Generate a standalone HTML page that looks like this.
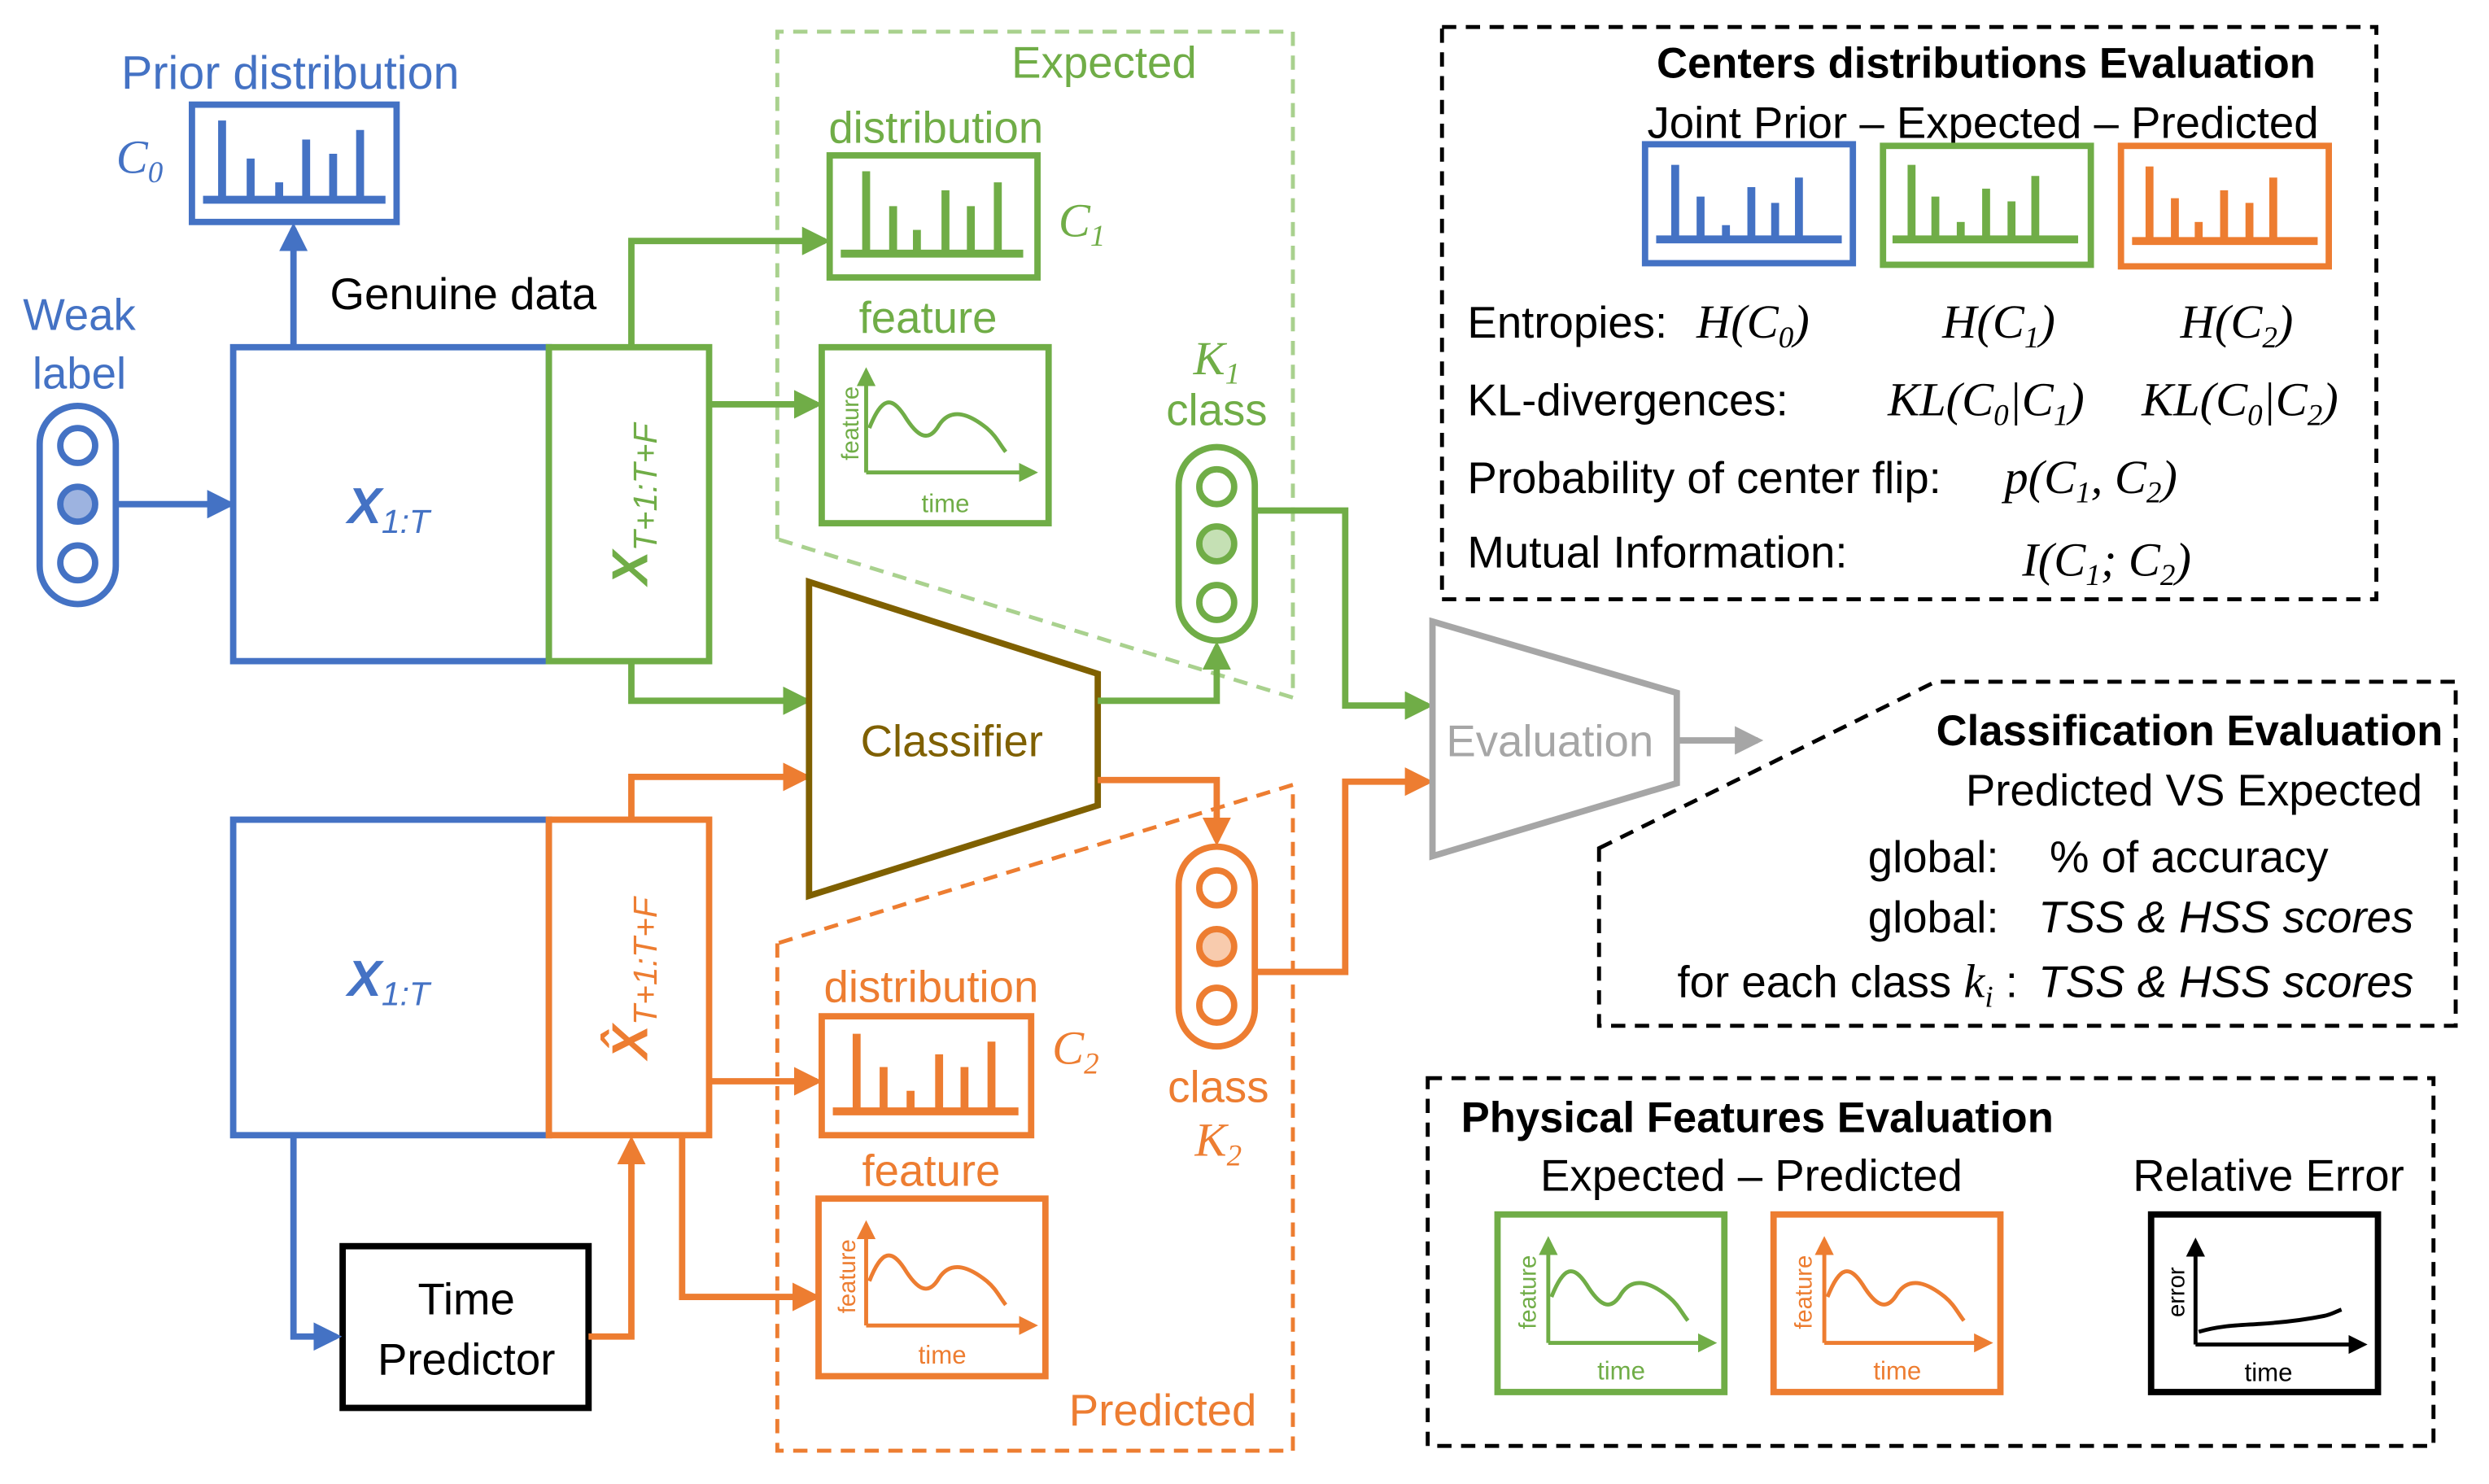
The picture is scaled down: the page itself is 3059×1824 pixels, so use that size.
<!DOCTYPE html>
<html><head><meta charset="utf-8">
<style>
html,body{margin:0;padding:0;background:#fff;}
svg{display:block;}
text{font-family:"Liberation Sans",sans-serif;}
.m{font-family:"Liberation Serif",serif;font-style:italic;}
</style></head>
<body>
<svg width="3059" height="1824" viewBox="0 0 1569 936" preserveAspectRatio="none" xmlns="http://www.w3.org/2000/svg">
<defs>
<marker id="ag" viewBox="0 0 10 10" refX="8" refY="5" markerWidth="18" markerHeight="18" orient="auto" markerUnits="userSpaceOnUse"><path d="M0,0 L10,5 L0,10 z" fill="#70AD47"/></marker>
<marker id="ao" viewBox="0 0 10 10" refX="8" refY="5" markerWidth="18" markerHeight="18" orient="auto" markerUnits="userSpaceOnUse"><path d="M0,0 L10,5 L0,10 z" fill="#ED7D31"/></marker>
<marker id="ab2" viewBox="0 0 10 10" refX="8" refY="5" markerWidth="18" markerHeight="18" orient="auto" markerUnits="userSpaceOnUse"><path d="M0,0 L10,5 L0,10 z" fill="#4472C4"/></marker>
<marker id="ay" viewBox="0 0 10 10" refX="8" refY="5" markerWidth="18" markerHeight="18" orient="auto" markerUnits="userSpaceOnUse"><path d="M0,0 L10,5 L0,10 z" fill="#A6A6A6"/></marker>
<marker id="sg" viewBox="0 0 10 10" refX="8" refY="5" markerWidth="12" markerHeight="12" orient="auto" markerUnits="userSpaceOnUse"><path d="M0,0 L10,5 L0,10 z" fill="#70AD47"/></marker>
<marker id="so" viewBox="0 0 10 10" refX="8" refY="5" markerWidth="12" markerHeight="12" orient="auto" markerUnits="userSpaceOnUse"><path d="M0,0 L10,5 L0,10 z" fill="#ED7D31"/></marker>
<marker id="sk" viewBox="0 0 10 10" refX="8" refY="5" markerWidth="12" markerHeight="12" orient="auto" markerUnits="userSpaceOnUse"><path d="M0,0 L10,5 L0,10 z" fill="#000"/></marker>
</defs>

<path d="M490,340 L490,20 L815,20 L815,440 L490,340" fill="none" stroke="#A9D18E" stroke-width="2.5" stroke-dasharray="9,6"/>
<path d="M490,595 L490,915 L815,915 L815,495 L490,595" fill="none" stroke="#ED7D31" stroke-width="2.5" stroke-dasharray="9,6"/>

<text x="183" y="56" font-size="29.5" fill="#4472C4" text-anchor="middle">Prior distribution</text>
<text x="88" y="109" font-size="30" class="m" fill="#4472C4" text-anchor="middle">C<tspan font-size="19" dy="6">0</tspan></text>
<rect x="121" y="66" width="129" height="74" fill="none" stroke="#4472C4" stroke-width="4"/>
<g stroke="#4472C4" stroke-width="5"><line x1="128" y1="126" x2="243" y2="126"/>
<line x1="140" y1="124" x2="140" y2="76"/><line x1="158" y1="124" x2="158" y2="100"/><line x1="176" y1="124" x2="176" y2="115"/><line x1="193" y1="124" x2="193" y2="88"/><line x1="210" y1="124" x2="210" y2="97"/><line x1="227" y1="124" x2="227" y2="82"/></g>
<line x1="185" y1="218" x2="185" y2="144" stroke="#4472C4" stroke-width="4" marker-end="url(#ab2)"/>
<text x="208" y="195" font-size="28" fill="#000">Genuine data</text>
<text x="50" y="208" font-size="28" fill="#4472C4" text-anchor="middle">Weak</text>
<text x="50" y="245" font-size="28" fill="#4472C4" text-anchor="middle">label</text>
<rect x="25" y="256" width="48" height="125" rx="24" fill="#fff" stroke="#4472C4" stroke-width="4"/>
<circle cx="49" cy="281" r="11" fill="#fff" stroke="#4472C4" stroke-width="4"/>
<circle cx="49" cy="318" r="11" fill="#9DB3E0" stroke="#4472C4" stroke-width="4"/>
<circle cx="49" cy="355" r="11" fill="#fff" stroke="#4472C4" stroke-width="4"/>
<line x1="73" y1="318" x2="145" y2="318" stroke="#4472C4" stroke-width="4" marker-end="url(#ab2)"/>

<rect x="147" y="219" width="199" height="198" fill="none" stroke="#4472C4" stroke-width="4"/>
<text x="245" y="330" font-size="32" fill="#4472C4" text-anchor="middle" font-family="Liberation Serif" font-style="italic" font-weight="bold">X<tspan font-size="21" dy="6" font-weight="normal">1:T</tspan></text>
<rect x="346" y="219" width="101" height="198" fill="none" stroke="#70AD47" stroke-width="4"/>
<text transform="translate(408,318) rotate(-90)" font-size="32" fill="#70AD47" text-anchor="middle" font-family="Liberation Serif" font-style="italic" font-weight="bold">X<tspan font-size="21" dy="6" font-weight="normal">T+1:T+F</tspan></text>

<rect x="147" y="517" width="199" height="199" fill="none" stroke="#4472C4" stroke-width="4"/>
<text x="245" y="628" font-size="32" fill="#4472C4" text-anchor="middle" font-family="Liberation Serif" font-style="italic" font-weight="bold">X<tspan font-size="21" dy="6" font-weight="normal">1:T</tspan></text>
<rect x="346" y="517" width="101" height="199" fill="none" stroke="#ED7D31" stroke-width="4"/>
<text transform="translate(408,617) rotate(-90)" font-size="32" fill="#ED7D31" text-anchor="middle" font-family="Liberation Serif" font-style="italic" font-weight="bold">X̂<tspan font-size="21" dy="6" font-weight="normal">T+1:T+F</tspan></text>

<rect x="216" y="786" width="155" height="102" fill="none" stroke="#000" stroke-width="4"/>
<text x="294" y="829" font-size="28" text-anchor="middle">Time</text>
<text x="294" y="867" font-size="28" text-anchor="middle">Predictor</text>
<polyline points="185,716 185,843 212,843" fill="none" stroke="#4472C4" stroke-width="4" marker-end="url(#ab2)"/>
<polyline points="371,843 398,843 398,720" fill="none" stroke="#ED7D31" stroke-width="4" marker-end="url(#ao)"/>

<polyline points="398,218 398,152 520,152" fill="none" stroke="#70AD47" stroke-width="4" marker-end="url(#ag)"/>
<line x1="447" y1="255" x2="515" y2="255" stroke="#70AD47" stroke-width="4" marker-end="url(#ag)"/>
<polyline points="398,417 398,442 508,442" fill="none" stroke="#70AD47" stroke-width="4" marker-end="url(#ag)"/>
<polyline points="398,517 398,490 508,490" fill="none" stroke="#ED7D31" stroke-width="4" marker-end="url(#ao)"/>
<line x1="447" y1="682" x2="515" y2="682" stroke="#ED7D31" stroke-width="4" marker-end="url(#ao)"/>
<polyline points="430,716 430,818 514,818" fill="none" stroke="#ED7D31" stroke-width="4" marker-end="url(#ao)"/>

<text x="696" y="49" font-size="28" fill="#70AD47" text-anchor="middle">Expected</text>
<text x="590" y="90" font-size="28" fill="#70AD47" text-anchor="middle">distribution</text>
<rect x="523" y="98" width="131" height="77" fill="none" stroke="#70AD47" stroke-width="4"/>
<g stroke="#70AD47" stroke-width="5"><line x1="530" y1="160" x2="645" y2="160"/>
<line x1="546" y1="158" x2="546" y2="108"/><line x1="563" y1="158" x2="563" y2="130"/><line x1="578" y1="158" x2="578" y2="145"/><line x1="596" y1="158" x2="596" y2="120"/><line x1="612" y1="158" x2="612" y2="130"/><line x1="629" y1="158" x2="629" y2="115"/></g>
<text x="682" y="149" font-size="30" class="m" fill="#70AD47" text-anchor="middle">C<tspan font-size="19" dy="6">1</tspan></text>
<text x="585" y="210" font-size="28" fill="#70AD47" text-anchor="middle">feature</text>
<rect x="518" y="219" width="143" height="111" fill="none" stroke="#70AD47" stroke-width="4"/>
<g stroke="#70AD47" stroke-width="2.5" fill="none"><line x1="546" y1="298" x2="546" y2="234" marker-end="url(#sg)"/><line x1="546" y1="298" x2="652" y2="298" marker-end="url(#sg)"/>
<path d="M548,270 C556,250 562,250 570,262 C578,275 585,280 592,268 C600,256 612,262 622,270 C628,275 630,280 634,285"/></g>
<text transform="translate(541,267) rotate(-90)" font-size="15" fill="#70AD47" text-anchor="middle">feature</text>
<text x="596" y="323" font-size="16" fill="#70AD47" text-anchor="middle">time</text>

<text x="767" y="236" font-size="30" class="m" fill="#70AD47" text-anchor="middle">K<tspan font-size="19" dy="6">1</tspan></text>
<text x="767" y="268" font-size="28" fill="#70AD47" text-anchor="middle">class</text>
<rect x="743" y="282" width="48" height="122" rx="24" fill="#fff" stroke="#70AD47" stroke-width="4"/>
<circle cx="767" cy="307" r="11" fill="#fff" stroke="#70AD47" stroke-width="4"/>
<circle cx="767" cy="343" r="11" fill="#C5E0B4" stroke="#70AD47" stroke-width="4"/>
<circle cx="767" cy="380" r="11" fill="#fff" stroke="#70AD47" stroke-width="4"/>

<polygon points="510,367 692,425 692,508 510,565" fill="#fff" stroke="#7F6000" stroke-width="4"/>
<text x="600" y="477" font-size="28" fill="#7F6000" text-anchor="middle">Classifier</text>
<polyline points="692,442 767,442 767,408" fill="none" stroke="#70AD47" stroke-width="4" marker-end="url(#ag)"/>
<polyline points="791,322 848,322 848,445 900,445" fill="none" stroke="#70AD47" stroke-width="4" marker-end="url(#ag)"/>
<polyline points="692,492 767,492 767,530" fill="none" stroke="#ED7D31" stroke-width="4" marker-end="url(#ao)"/>
<polyline points="791,613 848,613 848,493 900,493" fill="none" stroke="#ED7D31" stroke-width="4" marker-end="url(#ao)"/>

<rect x="743" y="534" width="48" height="126" rx="24" fill="#fff" stroke="#ED7D31" stroke-width="4"/>
<circle cx="767" cy="560" r="11" fill="#fff" stroke="#ED7D31" stroke-width="4"/>
<circle cx="767" cy="597" r="11" fill="#F8CBAD" stroke="#ED7D31" stroke-width="4"/>
<circle cx="767" cy="634" r="11" fill="#fff" stroke="#ED7D31" stroke-width="4"/>
<text x="768" y="695" font-size="28" fill="#ED7D31" text-anchor="middle">class</text>
<text x="768" y="729" font-size="30" class="m" fill="#ED7D31" text-anchor="middle">K<tspan font-size="19" dy="6">2</tspan></text>

<text x="587" y="632" font-size="28" fill="#ED7D31" text-anchor="middle">distribution</text>
<rect x="518" y="641" width="132" height="75" fill="none" stroke="#ED7D31" stroke-width="4"/>
<g stroke="#ED7D31" stroke-width="5"><line x1="525" y1="701" x2="642" y2="701"/>
<line x1="540" y1="699" x2="540" y2="652"/><line x1="557" y1="699" x2="557" y2="673"/><line x1="574" y1="699" x2="574" y2="688"/><line x1="592" y1="699" x2="592" y2="665"/><line x1="608" y1="699" x2="608" y2="673"/><line x1="625" y1="699" x2="625" y2="657"/></g>
<text x="678" y="671" font-size="30" class="m" fill="#ED7D31" text-anchor="middle">C<tspan font-size="19" dy="6">2</tspan></text>
<text x="587" y="748" font-size="28" fill="#ED7D31" text-anchor="middle">feature</text>
<rect x="516" y="756" width="143" height="112" fill="none" stroke="#ED7D31" stroke-width="4"/>
<g stroke="#ED7D31" stroke-width="2.5" fill="none"><line x1="546" y1="836" x2="546" y2="772" marker-end="url(#so)"/><line x1="546" y1="836" x2="652" y2="836" marker-end="url(#so)"/>
<path d="M548,808 C556,788 562,788 570,800 C578,813 585,818 592,806 C600,794 612,800 622,808 C628,813 630,818 634,823"/></g>
<text transform="translate(539,805) rotate(-90)" font-size="15" fill="#ED7D31" text-anchor="middle">feature</text>
<text x="594" y="860" font-size="16" fill="#ED7D31" text-anchor="middle">time</text>
<text x="733" y="899" font-size="28" fill="#ED7D31" text-anchor="middle">Predicted</text>

<polygon points="903,392 1057,437 1057,494 903,540" fill="#fff" stroke="#A6A6A6" stroke-width="4"/>
<text x="977" y="477" font-size="28" fill="#A6A6A6" text-anchor="middle">Evaluation</text>
<line x1="1057" y1="467" x2="1108" y2="467" stroke="#A6A6A6" stroke-width="4" marker-end="url(#ay)"/>

<rect x="909" y="17" width="589" height="361" fill="none" stroke="#000" stroke-width="2.5" stroke-dasharray="9,6"/>
<text x="1252" y="49" font-size="27" font-weight="bold" text-anchor="middle">Centers distributions Evaluation</text>
<text x="1250" y="87" font-size="28" text-anchor="middle">Joint Prior – Expected – Predicted</text>
<rect x="1037" y="91" width="131" height="75" fill="none" stroke="#4472C4" stroke-width="4"/>
<g stroke="#4472C4" stroke-width="5"><line x1="1044" y1="151" x2="1161" y2="151"/><line x1="1056" y1="149" x2="1056" y2="104"/><line x1="1072" y1="149" x2="1072" y2="124"/><line x1="1088" y1="149" x2="1088" y2="142"/><line x1="1104" y1="149" x2="1104" y2="118"/><line x1="1119" y1="149" x2="1119" y2="128"/><line x1="1134" y1="149" x2="1134" y2="112"/></g>
<rect x="1187" y="92" width="131" height="75" fill="none" stroke="#70AD47" stroke-width="4"/>
<g stroke="#70AD47" stroke-width="5"><line x1="1193" y1="151" x2="1310" y2="151"/><line x1="1205" y1="149" x2="1205" y2="104"/><line x1="1220" y1="149" x2="1220" y2="124"/><line x1="1236" y1="149" x2="1236" y2="140"/><line x1="1252" y1="149" x2="1252" y2="119"/><line x1="1268" y1="149" x2="1268" y2="127"/><line x1="1283" y1="149" x2="1283" y2="111"/></g>
<rect x="1337" y="92" width="131" height="76" fill="none" stroke="#ED7D31" stroke-width="4"/>
<g stroke="#ED7D31" stroke-width="5"><line x1="1344" y1="152" x2="1461" y2="152"/><line x1="1355" y1="150" x2="1355" y2="105"/><line x1="1371" y1="150" x2="1371" y2="125"/><line x1="1386" y1="150" x2="1386" y2="140"/><line x1="1402" y1="150" x2="1402" y2="120"/><line x1="1418" y1="150" x2="1418" y2="128"/><line x1="1433" y1="150" x2="1433" y2="112"/></g>
<text x="925" y="213" font-size="28">Entropies:</text>
<text x="1105" y="213" font-size="30" class="m" text-anchor="middle">H(C<tspan font-size="19" dy="6">0</tspan><tspan dy="-6">)</tspan></text>
<text x="1260" y="213" font-size="30" class="m" text-anchor="middle">H(C<tspan font-size="19" dy="6">1</tspan><tspan dy="-6">)</tspan></text>
<text x="1410" y="213" font-size="30" class="m" text-anchor="middle">H(C<tspan font-size="19" dy="6">2</tspan><tspan dy="-6">)</tspan></text>
<text x="925" y="262" font-size="28">KL-divergences:</text>
<text x="1252" y="262" font-size="30" class="m" text-anchor="middle">KL(C<tspan font-size="19" dy="6">0</tspan><tspan dy="-6">|C</tspan><tspan font-size="19" dy="6">1</tspan><tspan dy="-6">)</tspan></text>
<text x="1412" y="262" font-size="30" class="m" text-anchor="middle">KL(C<tspan font-size="19" dy="6">0</tspan><tspan dy="-6">|C</tspan><tspan font-size="19" dy="6">2</tspan><tspan dy="-6">)</tspan></text>
<text x="925" y="311" font-size="28">Probability of center flip:</text>
<text x="1318" y="311" font-size="30" class="m" text-anchor="middle">p(C<tspan font-size="19" dy="6">1</tspan><tspan dy="-6">, C</tspan><tspan font-size="19" dy="6">2</tspan><tspan dy="-6">)</tspan></text>
<text x="925" y="358" font-size="28">Mutual Information:</text>
<text x="1328" y="363" font-size="30" class="m" text-anchor="middle">I(C<tspan font-size="19" dy="6">1</tspan><tspan dy="-6">; C</tspan><tspan font-size="19" dy="6">2</tspan><tspan dy="-6">)</tspan></text>

<path d="M1008,535 L1220,430 L1548,430 L1548,647 L1008,647 Z" fill="none" stroke="#000" stroke-width="2.5" stroke-dasharray="9,6"/>
<text x="1540" y="470" font-size="27" font-weight="bold" text-anchor="end">Classification Evaluation</text>
<text x="1527" y="508" font-size="28" text-anchor="end">Predicted VS Expected</text>
<text x="1260" y="550" font-size="28" text-anchor="end">global:</text>
<text x="1292" y="550" font-size="28">% of accuracy</text>
<text x="1260" y="588" font-size="28" text-anchor="end">global:</text>
<text x="1285" y="588" font-size="28" font-style="italic">TSS &amp; HSS scores</text>
<text x="1272" y="629" font-size="28" text-anchor="end">for each class <tspan class="m" font-size="30">k</tspan><tspan class="m" font-size="19" dy="6">i</tspan><tspan dy="-6"> :</tspan></text>
<text x="1285" y="629" font-size="28" font-style="italic">TSS &amp; HSS scores</text>

<rect x="900" y="680" width="634" height="232" fill="none" stroke="#000" stroke-width="2.5" stroke-dasharray="9,6"/>
<text x="921" y="714" font-size="27" font-weight="bold">Physical Features Evaluation</text>
<text x="1104" y="751" font-size="28" text-anchor="middle">Expected – Predicted</text>
<text x="1430" y="751" font-size="28" text-anchor="middle">Relative Error</text>
<rect x="944" y="766" width="143" height="112" fill="none" stroke="#70AD47" stroke-width="4"/>
<g stroke="#70AD47" stroke-width="2.5" fill="none"><line x1="976" y1="847" x2="976" y2="782" marker-end="url(#sg)"/><line x1="976" y1="847" x2="1080" y2="847" marker-end="url(#sg)"/>
<path d="M978,818 C986,798 992,798 1000,810 C1008,823 1015,828 1022,816 C1030,804 1042,810 1052,818 C1058,823 1060,828 1064,833"/></g>
<text transform="translate(968,815) rotate(-90)" font-size="15" fill="#70AD47" text-anchor="middle">feature</text>
<text x="1022" y="870" font-size="16" fill="#70AD47" text-anchor="middle">time</text>
<rect x="1118" y="766" width="143" height="112" fill="none" stroke="#ED7D31" stroke-width="4"/>
<g stroke="#ED7D31" stroke-width="2.5" fill="none"><line x1="1150" y1="847" x2="1150" y2="782" marker-end="url(#so)"/><line x1="1150" y1="847" x2="1254" y2="847" marker-end="url(#so)"/>
<path d="M1152,818 C1160,798 1166,798 1174,810 C1182,823 1189,828 1196,816 C1204,804 1216,810 1226,818 C1232,823 1234,828 1238,833"/></g>
<text transform="translate(1142,815) rotate(-90)" font-size="15" fill="#ED7D31" text-anchor="middle">feature</text>
<text x="1196" y="870" font-size="16" fill="#ED7D31" text-anchor="middle">time</text>
<rect x="1356" y="766" width="143" height="112" fill="none" stroke="#000" stroke-width="4"/>
<g stroke="#000" stroke-width="2.5" fill="none"><line x1="1384" y1="848" x2="1384" y2="783" marker-end="url(#sk)"/><line x1="1384" y1="848" x2="1490" y2="848" marker-end="url(#sk)"/>
<path d="M1386,840 C1400,836 1410,836 1425,835 C1440,834 1455,832 1465,830 C1470,829 1473,827 1476,826"/></g>
<text transform="translate(1377,815) rotate(-90)" font-size="15" text-anchor="middle">error</text>
<text x="1430" y="871" font-size="16" text-anchor="middle">time</text>
</svg>
</body></html>
